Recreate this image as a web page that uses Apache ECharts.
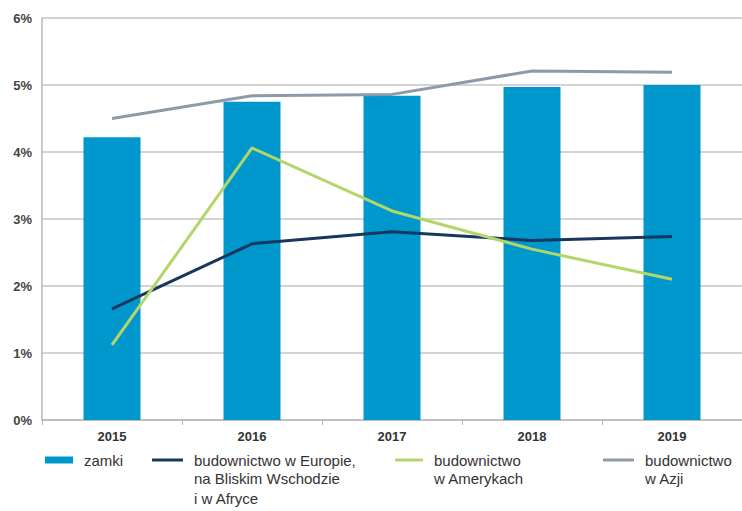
<!DOCTYPE html>
<html><head><meta charset="utf-8">
<script src="https://cdn.jsdelivr.net/npm/echarts@6/dist/echarts.min.js"></script>
<style>html,body{margin:0;padding:0;background:#fff}#c{width:742px;height:511px}</style>
</head><body><div id="c"></div>
<script>
var years = ['2015', '2016', '2017', '2018', '2019'];
var yTicks = [0, 1, 2, 3, 4, 5, 6];
var zamki = [4.22, 4.75, 4.84, 4.97, 5.0];
var europa = [1.66, 2.63, 2.81, 2.68, 2.74];
var ameryki = [1.12, 4.06, 3.12, 2.55, 2.10];
var azja = [4.50, 4.84, 4.86, 5.21, 5.19];
var nameLines = [
  ['zamki'],
  ['budownictwo w Europie,', 'na Bliskim Wschodzie', 'i w Afryce'],
  ['budownictwo', 'w Amerykach'],
  ['budownictwo', 'w Azji']
];
var names = nameLines.map(function (l) { return l.join(' '); });

var chart = echarts.init(document.getElementById('c'), null, {renderer: 'svg'});
var font = 'Liberation Sans, Arial, sans-serif';
var legendLeft = [45, 152, 395, 603];
var iconW = [28, 31, 28, 31];
var iconH = [7, 3, 3, 3];
var legends = [], graphics = [];
nameLines.forEach(function (lines, i) {
  legends.push({
    data: [{name: names[i], icon: 'rect'}],
    left: legendLeft[i], top: 450, padding: 0,
    itemWidth: iconW[i], itemHeight: iconH[i], itemGap: 0,
    selectedMode: false,
    formatter: function () { return lines[0]; },
    textStyle: {fontFamily: font, fontSize: 15, color: '#333', lineHeight: 20, padding: [0, 0, 0, 6]}
  });
  for (var k = 1; k < lines.length; k++) {
    graphics.push({
      type: 'text', left: legendLeft[i] + iconW[i] + 11, top: 450 + k * 20 + 1,
      style: {text: lines[k], font: '15px ' + font, fill: '#333'}
    });
  }
});
chart.setOption({
  animation: false,
  grid: {left: 42, right: -8, top: 18, bottom: 91},
  legend: legends,
  graphic: graphics,
  xAxis: {
    type: 'category', data: years,
    axisLine: {lineStyle: {color: '#b8b8b8', width: 1.5}},
    axisTick: {show: true, length: 5, lineStyle: {color: '#b8b8b8'}},
    axisLabel: {color: '#333', fontFamily: font, fontSize: 13, fontWeight: 'bold', margin: 10}
  },
  yAxis: {
    type: 'value', min: 0, max: 6, interval: 1,
    axisLine: {show: true, lineStyle: {color: '#b8b8b8', width: 1.5}},
    axisTick: {show: false},
    splitLine: {lineStyle: {color: '#c4c4c4', width: 1.5}},
    axisLabel: {formatter: '{value}%', color: '#444', fontFamily: font, fontSize: 13, fontWeight: 'bold', margin: 10}
  },
  series: [
    {name: names[0], type: 'bar', data: zamki, barWidth: 57, itemStyle: {color: '#0097cc'}},
    {name: names[1], type: 'line', data: europa, symbol: 'none', lineStyle: {color: '#17375e', width: 3}, itemStyle: {color: '#17375e'}},
    {name: names[2], type: 'line', data: ameryki, symbol: 'none', lineStyle: {color: '#b3d66a', width: 3}, itemStyle: {color: '#b3d66a'}},
    {name: names[3], type: 'line', data: azja, symbol: 'none', lineStyle: {color: '#8e9ba6', width: 3}, itemStyle: {color: '#8e9ba6'}}
  ]
});
</script></body></html>
